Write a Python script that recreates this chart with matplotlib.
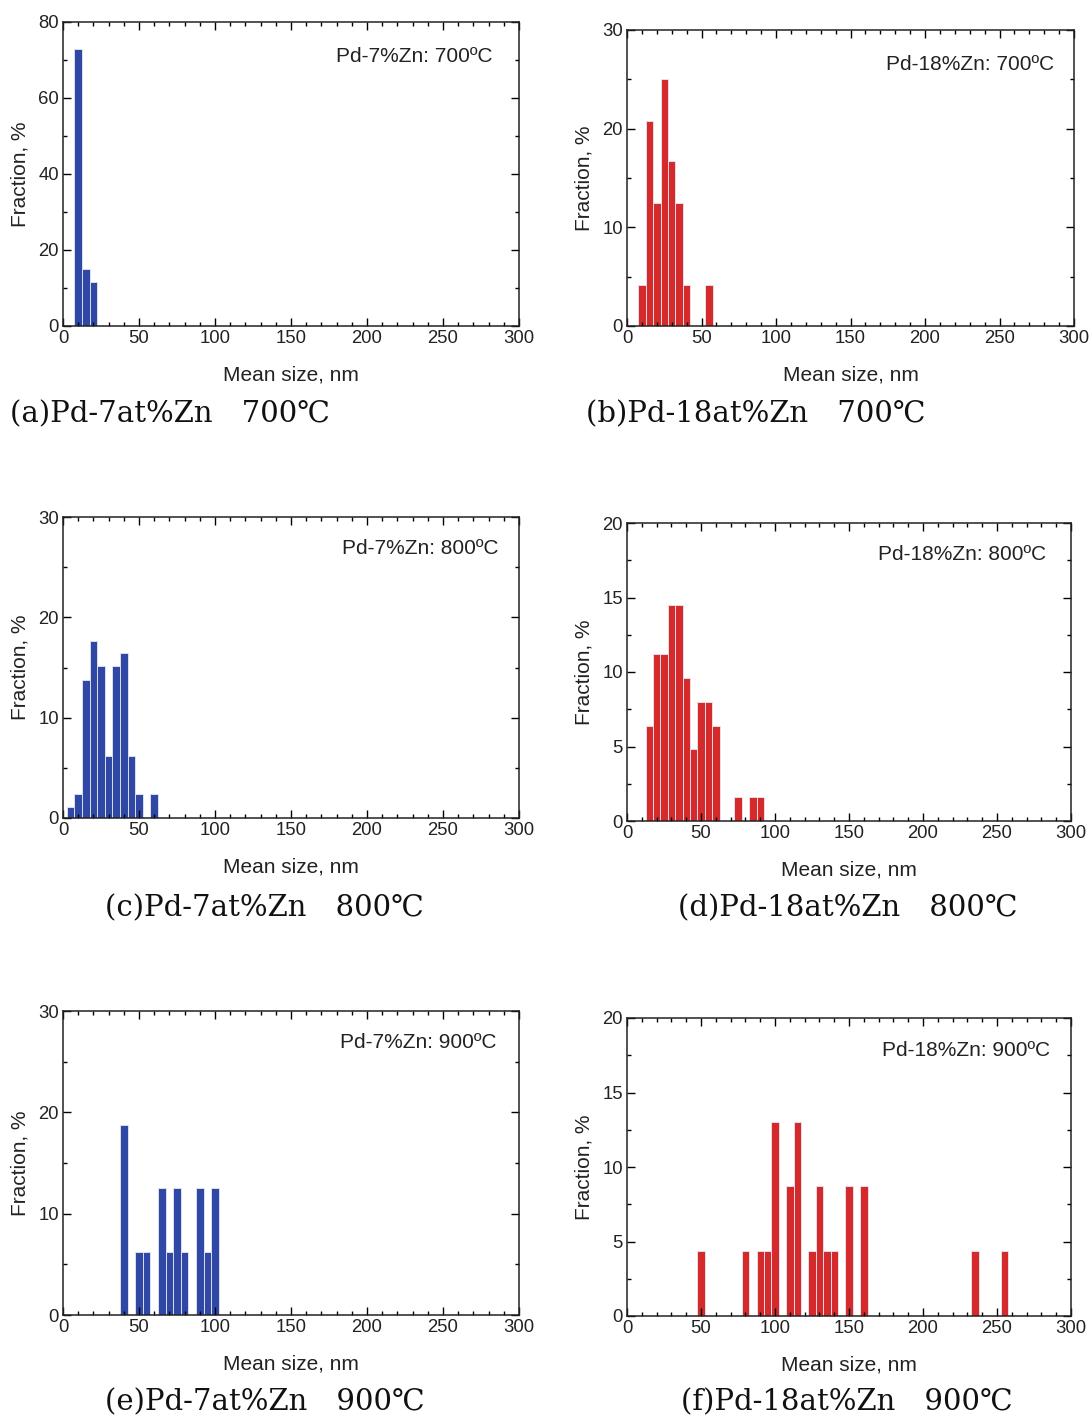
import matplotlib
matplotlib.use("Agg")
import matplotlib.pyplot as plt
from matplotlib.ticker import MultipleLocator

# ---------------- data ----------------
# (a) Pd-7%Zn 700C
a_centers = [10, 15, 20]
a_values = [73.0, 15.0, 11.5]
# (b) Pd-18%Zn 700C
b_centers = [10, 15, 20, 25, 30, 35, 40, 55]
b_values = [4.2, 20.8, 12.5, 25.0, 16.7, 12.5, 4.2, 4.2]
# (c) Pd-7%Zn 800C
c_centers = [5, 10, 15, 20, 25, 30, 35, 40, 45, 50, 60]
c_values = [1.1, 2.4, 13.8, 17.6, 15.1, 6.2, 15.1, 16.4, 6.2, 2.4, 2.4]
# (d) Pd-18%Zn 800C
d_centers = [15, 20, 25, 30, 35, 40, 45, 50, 55, 60, 75, 85, 90]
d_values = [6.4, 11.2, 11.2, 14.5, 14.5, 9.6, 4.8, 8.0, 8.0, 6.4, 1.6, 1.6, 1.6]
# (e) Pd-7%Zn 900C
e_centers = [40, 50, 55, 65, 70, 75, 80, 90, 95, 100]
e_values = [18.75, 6.25, 6.25, 12.5, 6.25, 12.5, 6.25, 12.5, 6.25, 12.5]
# (f) Pd-18%Zn 900C
f_centers = [50, 80, 90, 95, 100, 110, 115, 125, 130, 135, 140, 150, 160, 235, 255]
f_values = [4.35, 4.35, 4.35, 4.35, 13.04, 8.7, 13.04, 4.35, 8.7, 4.35, 4.35,
            8.7, 8.7, 4.35, 4.35]

inset_labels = ["Pd-7%Zn: 700ºC", "Pd-18%Zn: 700ºC", "Pd-7%Zn: 800ºC",
                "Pd-18%Zn: 800ºC", "Pd-7%Zn: 900ºC", "Pd-18%Zn: 900ºC"]
captions = ["(a)Pd-7at%Zn\u3000700\u2103", "(b)Pd-18at%Zn\u3000700\u2103",
            "(c)Pd-7at%Zn\u3000800\u2103", "(d)Pd-18at%Zn\u3000800\u2103",
            "(e)Pd-7at%Zn\u3000900\u2103", "(f)Pd-18at%Zn\u3000900\u2103"]
x_label = "Mean size, nm"
y_label = "Fraction, %"

BLUE = "#2f48a6"
RED = "#d42a2b"

W, H = 1089, 1420
fig = plt.figure(figsize=(W / 100, H / 100), dpi=100)

sans = ["Liberation Sans", "DejaVu Sans"]
serif = ["DejaVu Serif", "Noto Sans CJK JP"]

# pixel boxes: left, top, right, bottom
boxes = [(63, 22, 519, 326), (627, 30, 1074, 326),
         (63, 517, 519, 818), (627, 523, 1071, 821),
         (63, 1011, 519, 1315), (627, 1018, 1071, 1316)]
series = [(a_centers, a_values), (b_centers, b_values), (c_centers, c_values),
          (d_centers, d_values), (e_centers, e_values), (f_centers, f_values)]
ylims = [(80, 20, 10), (30, 10, 5), (30, 10, 5), (20, 5, 2.5), (30, 10, 5), (20, 5, 2.5)]
colors = [BLUE, RED, BLUE, RED, BLUE, RED]
inset_pos = [(493, 57), (1054, 64), (499, 549), (1046, 555), (496, 1043), (1050, 1051)]
cap_pos = [(10, 414), (586, 414), (105, 908), (678, 908), (105, 1402), (681, 1402)]

for i in range(6):
    l, t, r, b = boxes[i]
    ax = fig.add_axes([l / W, 1 - b / H, (r - l) / W, (b - t) / H])
    cx, vals = series[i]
    ax.bar(cx, vals, width=5, color=colors[i], edgecolor="#e8e8f0", linewidth=0.6)
    ymax, ymaj, ymin = ylims[i]
    ax.set_xlim(0, 300)
    ax.set_ylim(0, ymax)
    ax.xaxis.set_major_locator(MultipleLocator(50))
    ax.xaxis.set_minor_locator(MultipleLocator(10))
    ax.yaxis.set_major_locator(MultipleLocator(ymaj))
    ax.yaxis.set_minor_locator(MultipleLocator(ymin))
    ax.tick_params(which="both", direction="in", top=True, right=True,
                   labelsize=13.3, pad=3, width=1.0)
    ax.tick_params(which="major", length=5.5)
    ax.tick_params(which="minor", length=3)
    for lab in ax.get_xticklabels() + ax.get_yticklabels():
        lab.set_family(sans)
        lab.set_color("#222222")
    for s in ax.spines.values():
        s.set_linewidth(1.1)
        s.set_color("#222222")
    ax.set_xlabel(x_label, family=sans, fontsize=15, labelpad=13, color="#222222")
    ax.set_ylabel(y_label, family=sans, fontsize=15, labelpad=6, color="#222222")
    ix, iy = inset_pos[i]
    fig.text(ix / W, 1 - iy / H, inset_labels[i], family=sans, fontsize=15,
             ha="right", va="center", color="#222222")
    cx0, cy0 = cap_pos[i]
    fig.text(cx0 / W, 1 - cy0 / H, captions[i], family=serif, fontsize=21,
             ha="left", va="center", color="#111111")

fig.savefig("out.png", dpi=100)
